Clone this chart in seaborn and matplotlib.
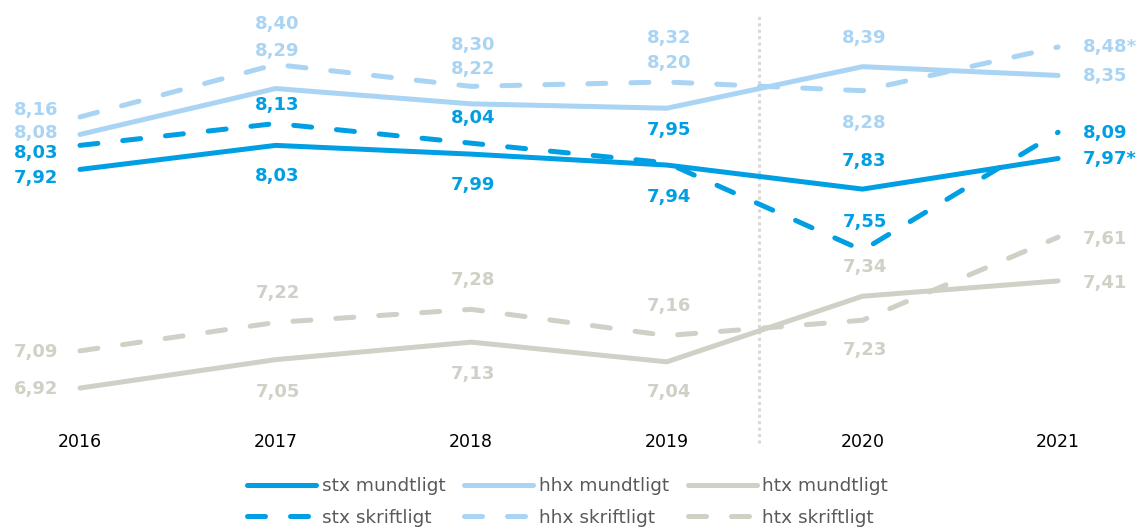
import matplotlib
matplotlib.use('Agg')
import matplotlib.pyplot as plt
from matplotlib.lines import Line2D
import pandas as pd
import seaborn as sns

YEARS = [2016, 2017, 2018, 2019, 2020, 2021]

STX_MUNDTLIGT = [7.92, 8.03, 7.99, 7.94, 7.83, 7.97]
HHX_MUNDTLIGT = [8.08, 8.29, 8.22, 8.20, 8.39, 8.35]
HTX_MUNDTLIGT = [6.92, 7.05, 7.13, 7.04, 7.34, 7.41]
STX_SKRIFTLIGT = [8.03, 8.13, 8.04, 7.95, 7.55, 8.09]
HHX_SKRIFTLIGT = [8.16, 8.40, 8.30, 8.32, 8.28, 8.48]
HTX_SKRIFTLIGT = [7.09, 7.22, 7.28, 7.16, 7.23, 7.61]

# values marked with an asterisk in the source
STARRED = {('stx mundtligt', 2021), ('hhx skriftligt', 2021)}

SERIES = {
    'stx mundtligt': STX_MUNDTLIGT,
    'stx skriftligt': STX_SKRIFTLIGT,
    'hhx mundtligt': HHX_MUNDTLIGT,
    'hhx skriftligt': HHX_SKRIFTLIGT,
    'htx mundtligt': HTX_MUNDTLIGT,
    'htx skriftligt': HTX_SKRIFTLIGT,
}

COLORS = {'stx': '#009FE3', 'hhx': '#A9D4F4', 'htx': '#D0D0C6'}
DASHES = {'mundtligt': '', 'skriftligt': (3.6, 5.0)}

# vertical label offsets in pixels (negative = above the point)
LABEL_DY = {
    'hhx skriftligt': [-7, -40, -41, -44, 32, 0],
    'hhx mundtligt': [-1, -38, -35, -45, -29, 1],
    'stx skriftligt': [8, -19, -25, -33, -28, 1],
    'stx mundtligt': [9, 31, 31, 32, -28, 1],
    'htx skriftligt': [1, -29, -29, -30, 30, 2],
    'htx mundtligt': [1, 32, 32, 30, -29, 2],
}

rows = []
for name, vals in SERIES.items():
    school, kind = name.split()
    for year, v in zip(YEARS, vals):
        rows.append({'year': year, 'value': v, 'school': school, 'kind': kind, 'series': name})
df = pd.DataFrame(rows)

sns.set_style('white')
plt.rcParams['font.family'] = ['DejaVu Sans']

fig = plt.figure(figsize=(11.42, 5.29), dpi=100)
ax = fig.add_axes([0, 0.1966, 1, 0.8034])

LW = 3.6
sns.lineplot(data=df, x='year', y='value', hue='school', style='kind',
             palette=COLORS, dashes=DASHES, linewidth=LW, legend=False,
             solid_capstyle='round', dash_capstyle='round', ax=ax)

ax.set_xlim(2015.591, 2021.429)
ax.set_ylim(6.751, 8.695)

# dotted separator between 2019 and 2020
ax.axvline(2019.47, ymin=-0.042, ymax=0.962, color='#D9D9D9', linewidth=2.2,
           linestyle=(0, (1, 1.1)), clip_on=False, zorder=0)

px = 0.72  # points per pixel at 100 dpi
for name, vals in SERIES.items():
    school = name.split()[0]
    for i, (year, v) in enumerate(zip(YEARS, vals)):
        txt = f'{v:.2f}'.replace('.', ',')
        if (name, year) in STARRED:
            txt += '*'
        dy = -LABEL_DY[name][i] * px
        if i == 0:
            dx, ha = -22 * px, 'right'
        elif i == len(YEARS) - 1:
            dx, ha = 25 * px, 'left'
        else:
            dx, ha = 2 * px, 'center'
        ax.annotate(txt, (year, v), xytext=(dx, dy), textcoords='offset points',
                    ha=ha, va='center', fontsize=13, fontweight='bold',
                    color=COLORS[school], annotation_clip=False)

ax.set_xticks(YEARS)
ax.set_xticklabels([str(y) for y in YEARS], fontsize=12.5, color='black')
ax.tick_params(axis='x', length=0, pad=6)
ax.set_yticks([])
ax.set_xlabel('')
ax.set_ylabel('')
for s in ax.spines.values():
    s.set_visible(False)

handles = []
labels = []
for name in SERIES:
    school, kind = name.split()
    ls = '-' if kind == 'mundtligt' else (0, DASHES[kind])
    handles.append(Line2D([], [], color=COLORS[school], linewidth=LW, linestyle=ls,
                          solid_capstyle='round', dash_capstyle='round'))
    labels.append(name)

leg = fig.legend(handles, labels, ncol=3, loc='center', bbox_to_anchor=(0.497, 0.051),
                 frameon=False, fontsize=13.3, handlelength=3.75, handletextpad=0.3,
                 columnspacing=1.0, labelspacing=0.72, labelcolor='#595959')

fig.savefig('out.png', dpi=100)
